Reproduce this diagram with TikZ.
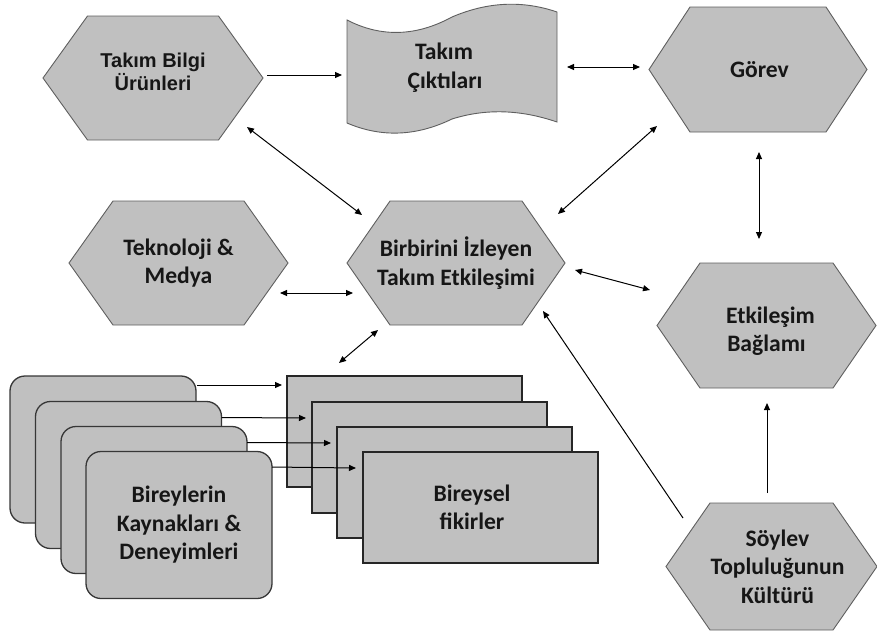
\documentclass[tikz,border=0pt]{standalone}
\usepackage{fontspec}
\setmainfont{Carlito}
\newfontfamily\arialfont{Liberation Sans}
\usetikzlibrary{arrows.meta,backgrounds}

\definecolor{shapefill}{RGB}{192,192,192}
\definecolor{hexline}{RGB}{95,95,95}
\definecolor{boxline}{RGB}{55,55,55}
\definecolor{ink}{RGB}{22,22,22}

\tikzset{
  label text/.style={text=ink, align=center, inner sep=0pt, outer sep=0pt,
    font=\bfseries\fontsize{23.6}{28.5}\selectfont},
  hexbox/.style 2 args={label text, rectangle, minimum width=#1, minimum height=#2},
  hexshape/.style={fill=shapefill, draw=hexline, line width=0.9pt, line join=miter},
  tapeshape/.style={fill=shapefill, draw=hexline, line width=0.9pt},
  resbox/.style={label text, rectangle, rounded corners=15pt, fill=shapefill,
    draw=boxline, line width=1.3pt, minimum width=186, minimum height=147},
  ideabox/.style={label text, rectangle, fill=shapefill, draw=black!85,
    line width=1.3pt, minimum width=235, minimum height=111},
  conn/.style={draw=black, line width=1pt, -{Triangle[length=7pt,width=6pt]}},
  biconn/.style={draw=black, line width=1pt,
    {Triangle[length=7pt,width=6pt]}-{Triangle[length=7pt,width=6pt]}},
}

% hexagon with pointed left and right ends, drawn round a node's box
\newcommand\drawhex[2]{%
  \path[hexshape] (#1.west) -- ([xshift=#2]#1.north west) -- ([xshift=-#2]#1.north east)
    -- (#1.east) -- ([xshift=-#2]#1.south east) -- ([xshift=#2]#1.south west) -- cycle;}

\begin{document}
\begin{tikzpicture}[x=1pt,y=-1pt]
\useasboundingbox (0,0) rectangle (877,630);

% hexagonal and tape-shaped nodes
\node[hexbox={220}{124}, font=\arialfont\bfseries\fontsize{20}{23}\selectfont]
  (tbu) at (153,78) {Takım Bilgi\\Ürünleri\rule[-12pt]{0pt}{0pt}};
\node[hexbox={210}{111}] (tc) at (452,67.5)
  {Takım\hspace*{16pt}\\Çıktıları\hspace*{14pt}};
\node[hexbox={218}{125}] (gorev) at (758,69.5) {\hspace*{3pt}Görev};
\node[hexbox={219}{124}] (tm) at (178.5,263) {Teknoloji \&\\Medya};
\node[hexbox={218}{124}] (bti) at (456,263) {Birbirini İzleyen\\Takım Etkileşimi};
\node[hexbox={219}{125}] (eb) at (766.5,325.5)
  {\rule{0pt}{28pt}\hspace*{8pt}Etkileşim\\Bağlamı};
\node[hexbox={211}{127}] (skk) at (771.5,566.5)
  {\hspace*{12pt}Söylev\\\hspace*{12pt}Topluluğunun\\\hspace*{12pt}Kültürü};

\begin{pgfonlayer}{background}
  \drawhex{tbu}{44.5}
  \drawhex{gorev}{41}
  \drawhex{tm}{44}
  \drawhex{bti}{43}
  \drawhex{eb}{43}
  \drawhex{skk}{44}
  \begin{scope}[shift={(tc.north west)}]
    \path[tapeshape] (0,8) .. controls (35,26) and (70,24) .. (105,5)
      .. controls (140,-10) and (175,-12) .. (210,0) -- (210,110)
      .. controls (175,98) and (140,96) .. (105,107)
      .. controls (70,124) and (35,126) .. (0,111) -- cycle;
  \end{scope}
\end{pgfonlayer}

% stacked resource cards
\node[resbox] (rr1) at (103,449.5) {};
\node[resbox] (rr2) at (128.5,475) {};
\node[resbox] (rr3) at (154,500) {};
\node[resbox] (rr4) at (179,525) {Bireylerin\\Kaynakları \&\\Deneyimleri};

% stacked idea sheets
\node[ideabox] (bf1) at (404.5,431.5) {};
\node[ideabox] (bf2) at (429.5,457.5) {};
\node[ideabox] (bf3) at (454.5,482.5) {};
\node[ideabox] (bf4) at (480.5,507.5) {Bireysel\hspace*{17pt}\\fikirler\hspace*{17pt}};

% connectors
\draw[conn] ([shift={(4,-3)}]tbu.east) -- ([shift={(-5,7.5)}]tc.west);
\draw[biconn] ([shift={(10,-0.5)}]tc.east) -- ([shift={(-9,-2.5)}]gorev.west);
\draw[biconn] ([shift={(1,20)}]gorev.south) -- ([shift={(-7.5,-24)}]eb.north);
\draw[biconn] ([shift={(-7,-49)}]bti.east) -- ([shift={(8,56.5)}]gorev.west);
\draw[biconn] ([shift={(10,7)}]bti.east) -- ([shift={(-7,-35.5)}]eb.west);
\draw[biconn] ([shift={(-16,49)}]tbu.east) -- ([shift={(15,-48)}]bti.west);
\draw[biconn] ([shift={(-8,30)}]tm.east) -- ([shift={(6,30)}]bti.west);
\draw[biconn] ([shift={(-78,5)}]bti.south) -- ([shift={(-65.5,-13)}]bf1.north);
\draw[conn] ([shift={(17,-48.5)}]skk.west) -- ([shift={(-22,48)}]bti.east);
\draw[conn] ([shift={(-4.5,-10)}]skk.north) -- ([shift={(0.5,15)}]eb.south);

\draw[conn] ([shift={(1,9)}]rr1.north east) -- ([shift={(-5,9)}]bf1.north west);
\draw[conn] ([shift={(0,16)}]rr2.north east) -- ([shift={(-6,16)}]bf2.north west);
\draw[conn] ([shift={(0,16)}]rr3.north east) -- ([shift={(-6,16)}]bf3.north west);
\draw[conn] ([shift={(0,15.5)}]rr4.north east) -- ([shift={(-7,16)}]bf4.north west);
\end{tikzpicture}
\end{document}
